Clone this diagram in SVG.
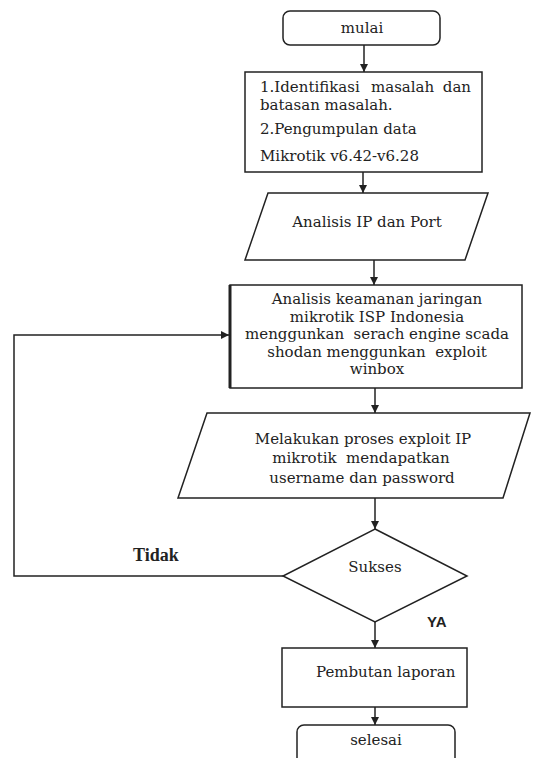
<svg xmlns="http://www.w3.org/2000/svg" width="536" height="758" viewBox="0 0 536 758">
<defs>
<style>
.s{fill:#fff;stroke:#222;stroke-width:1.5}
.t{font-family:"DejaVu Serif","Liberation Serif",serif;font-size:15px;fill:#222}
.c{text-anchor:middle}
.b{font-family:"Liberation Serif","Times New Roman",serif;font-size:18px;font-weight:bold;fill:#222}
.y{font-family:"Liberation Sans",Arial,sans-serif;font-size:15px;font-weight:bold;fill:#222}
.l{fill:none;stroke:#222;stroke-width:1.5}
</style>
<marker id="a" viewBox="0 0 10 10" refX="10" refY="5" markerWidth="8" markerHeight="8" markerUnits="userSpaceOnUse" orient="auto">
<path d="M0,0L10,5L0,10z" fill="#222"/>
</marker>
</defs>
<rect width="536" height="758" fill="#fff"/>
<g id="connectors">
<line class="l" x1="364" y1="45" x2="364" y2="72" marker-end="url(#a)"/>
<line class="l" x1="363" y1="172" x2="363" y2="193" marker-end="url(#a)"/>
<line class="l" x1="374" y1="260" x2="374" y2="285" marker-end="url(#a)"/>
<line class="l" x1="375" y1="388" x2="375" y2="413" marker-end="url(#a)"/>
<line class="l" x1="375" y1="498" x2="375" y2="529" marker-end="url(#a)"/>
<line class="l" x1="375" y1="622" x2="375" y2="648" marker-end="url(#a)"/>
<line class="l" x1="375" y1="707" x2="375" y2="725" marker-end="url(#a)"/>
<polyline class="l" points="283,576 14,576 14,335 229,335" marker-end="url(#a)"/>
<text class="b" x="133" y="561">Tidak</text>
<text class="y" x="427" y="627">YA</text>
</g>
<g id="mulai">
<rect class="s" x="283" y="11" width="157" height="34" rx="7"/>
<text class="t c" x="362" y="33">mulai</text>
</g>
<g id="identifikasi">
<rect class="s" x="245" y="72" width="237" height="100"/>
<text class="t"><tspan x="260" y="92">1.Identifikasi</tspan><tspan x="371" y="92">masalah</tspan><tspan x="471" y="92" text-anchor="end">dan</tspan></text>
<text class="t" x="260" y="110">batasan masalah.</text>
<text class="t" x="260" y="134">2.Pengumpulan data</text>
<text class="t" x="260" y="161">Mikrotik v6.42-v6.28</text>
</g>
<g id="analisis-ip">
<polygon class="s" points="268,193 488,193 465,260 245,260"/>
<text class="t c" x="367" y="227">Analisis IP dan Port</text>
</g>
<g id="analisis-keamanan">
<rect class="s" x="230" y="285" width="292" height="103"/>
<line x1="230" y1="285" x2="230" y2="388" stroke="#222" stroke-width="3"/>
<text class="t c" x="377" y="304">Analisis keamanan jaringan</text>
<text class="t c" x="377" y="321.5">mikrotik ISP Indonesia</text>
<text class="t c" x="377" y="339" xml:space="preserve">menggunkan  serach engine scada</text>
<text class="t c" x="377" y="356.5" xml:space="preserve">shodan menggunkan  exploit</text>
<text class="t c" x="377" y="374">winbox</text>
</g>
<g id="exploit">
<polygon class="s" points="207,413 530,413 503,498 178,498"/>
<text class="t c" x="363" y="444">Melakukan proses exploit IP</text>
<text class="t c" x="361" y="463" xml:space="preserve">mikrotik  mendapatkan</text>
<text class="t c" x="362" y="483">username dan password</text>
</g>
<g id="sukses">
<polygon class="s" points="375,529 467,576 375,622 283,576"/>
<text class="t c" x="375" y="572">Sukses</text>
</g>
<g id="laporan">
<rect class="s" x="282" y="648" width="185" height="59"/>
<text class="t" x="316" y="677">Pembutan laporan</text>
</g>
<g id="selesai">
<rect class="s" x="297" y="725" width="158" height="40" rx="7"/>
<text class="t c" x="376" y="745">selesai</text>
</g>
</svg>
